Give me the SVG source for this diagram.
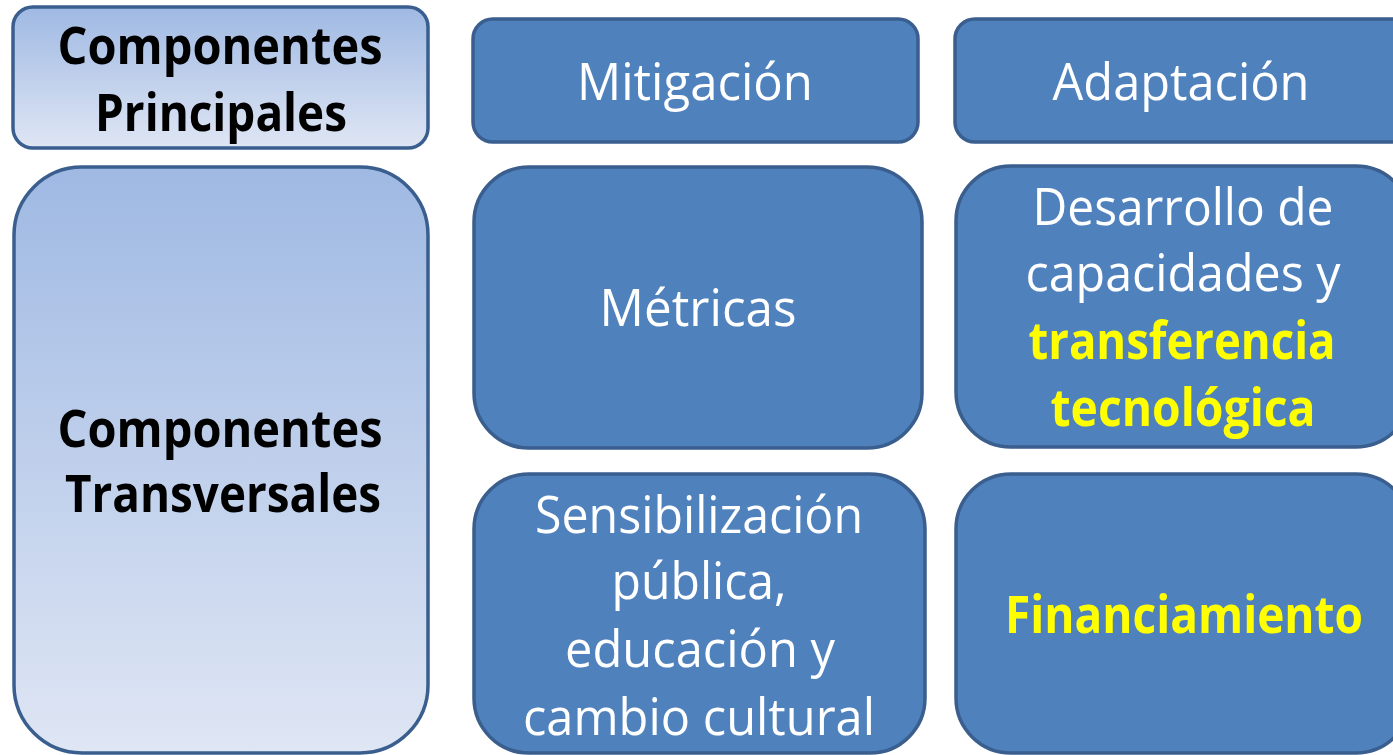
<svg xmlns="http://www.w3.org/2000/svg" width="1393" height="755" viewBox="0 0 1393 755">
<defs>
<linearGradient id="lg" x1="0" y1="0" x2="0" y2="1">
<stop offset="0" stop-color="#9fb9e3"/>
<stop offset="1" stop-color="#dfe6f4"/>
</linearGradient>
<style>
.light{fill:url(#lg);stroke:#3a5e8e;stroke-width:3.5}
.dark{fill:#4f81bd;stroke:#3a5e8e;stroke-width:3.5}
text{font-family:"Open Sans","Noto Sans","Liberation Sans",sans-serif;font-size:52px;text-anchor:middle}
.hd{font-weight:bold;fill:#000}
.w{fill:#fff}
.y{fill:#ffff00;font-weight:bold}
</style>
</defs>
<rect width="1393" height="755" fill="#fff"/>
<g id="componentes-principales">
<rect class="light" x="13" y="7" width="415" height="141" rx="20"/>
<text class="hd" x="220" y="64" textLength="325" lengthAdjust="spacingAndGlyphs">Componentes</text>
<text class="hd" x="221" y="131" textLength="252" lengthAdjust="spacingAndGlyphs">Principales</text>
</g>
<g id="mitigacion">
<rect class="dark" x="473" y="19" width="445" height="123" rx="20"/>
<text class="w" x="695" y="100" textLength="236" lengthAdjust="spacingAndGlyphs">Mitigación</text>
</g>
<g id="adaptacion">
<rect class="dark" x="955" y="19" width="456" height="123" rx="20"/>
<text class="w" x="1181" y="100" textLength="257" lengthAdjust="spacingAndGlyphs">Adaptación</text>
</g>
<g id="componentes-transversales">
<rect class="light" x="14" y="167" width="414" height="586" rx="68"/>
<text class="hd" x="220" y="447" textLength="325" lengthAdjust="spacingAndGlyphs">Componentes</text>
<text class="hd" x="223" y="512" textLength="316" lengthAdjust="spacingAndGlyphs">Transversales</text>
</g>
<g id="metricas">
<rect class="dark" x="474" y="167" width="448" height="281" rx="55"/>
<text class="w" x="698" y="326" textLength="197" lengthAdjust="spacingAndGlyphs">Métricas</text>
</g>
<g id="desarrollo">
<rect class="dark" x="956" y="166" width="455" height="281" rx="55"/>
<text class="w" x="1183" y="225" textLength="301" lengthAdjust="spacingAndGlyphs">Desarrollo de</text>
<text class="w" x="1183" y="291" textLength="315" lengthAdjust="spacingAndGlyphs">capacidades y</text>
<text class="y" x="1182" y="359" textLength="307" lengthAdjust="spacingAndGlyphs">transferencia</text>
<text class="y" x="1183" y="426" textLength="265" lengthAdjust="spacingAndGlyphs">tecnológica</text>
</g>
<g id="sensibilizacion">
<rect class="dark" x="474" y="474" width="451" height="279" rx="55"/>
<text class="w" x="699" y="533" textLength="328" lengthAdjust="spacingAndGlyphs">Sensibilización</text>
<text class="w" x="699" y="599" textLength="175" lengthAdjust="spacingAndGlyphs">pública,</text>
<text class="w" x="700" y="667" textLength="270" lengthAdjust="spacingAndGlyphs">educación y</text>
<text class="w" x="699" y="735" textLength="352" lengthAdjust="spacingAndGlyphs">cambio cultural</text>
</g>
<g id="financiamiento">
<rect class="dark" x="956" y="474" width="455" height="279" rx="55"/>
<text class="y" x="1184" y="633" textLength="358" lengthAdjust="spacingAndGlyphs">Financiamiento</text>
</g>
<g id="connectors"/>
</svg>
